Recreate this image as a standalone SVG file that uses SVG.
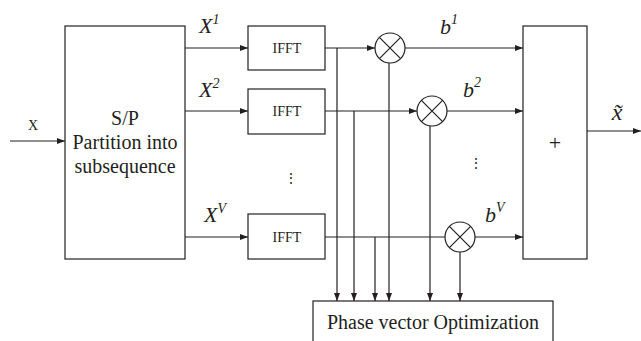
<svg xmlns="http://www.w3.org/2000/svg" width="641" height="341" viewBox="0 0 641 341">
<defs>
<marker id="ah" markerWidth="8" markerHeight="6" refX="8" refY="3" orient="auto" markerUnits="userSpaceOnUse">
<path d="M0,0 L8,3 L0,6 Z" fill="#231f20"/>
</marker>
<style>
.box{fill:#fff;stroke:#231f20;stroke-width:1.2}
.ln{fill:none;stroke:#231f20;stroke-width:1.2}
.ar{fill:none;stroke:#231f20;stroke-width:1.2;marker-end:url(#ah)}
.t{font-family:"Liberation Serif","Times New Roman",serif;fill:#231f20}
.it{font-family:"Liberation Serif","Times New Roman",serif;font-style:italic;fill:#231f20}
</style>
</defs>
<rect width="641" height="341" fill="#fff"/>
<g id="connectors">
<line class="ar" x1="10" y1="141" x2="65" y2="141"/>
<line class="ar" x1="185" y1="48" x2="248" y2="48"/>
<line class="ar" x1="185" y1="111" x2="248" y2="111"/>
<line class="ar" x1="185" y1="237" x2="248" y2="237"/>
<line class="ar" x1="325" y1="48" x2="375" y2="48"/>
<line class="ar" x1="325" y1="111" x2="417" y2="111"/>
<line class="ln" x1="325" y1="237" x2="445" y2="237"/>
<line class="ar" x1="337" y1="48" x2="337" y2="301"/>
<line class="ar" x1="354" y1="111" x2="354" y2="301"/>
<line class="ar" x1="375" y1="237" x2="375" y2="301"/>
<line class="ar" x1="389" y1="63" x2="389" y2="301"/>
<line class="ar" x1="430" y1="126" x2="430" y2="301"/>
<line class="ar" x1="460" y1="252" x2="460" y2="301"/>
<line class="ar" x1="405" y1="48" x2="523" y2="48"/>
<line class="ar" x1="447" y1="111" x2="523" y2="111"/>
<line class="ar" x1="475" y1="237" x2="523" y2="237"/>
<line class="ar" x1="587" y1="131" x2="641" y2="131"/>
</g>
<g id="sp">
<rect class="box" x="65" y="26" width="120" height="233"/>
<text class="t" x="125" y="125" font-size="20" text-anchor="middle">S/P</text>
<text class="t" x="125" y="149" font-size="20" text-anchor="middle">Partition into</text>
<text class="t" x="125" y="173" font-size="20" text-anchor="middle">subsequence</text>
</g>
<text class="t" x="33" y="130" font-size="14" text-anchor="middle">X</text>
<g id="ifft1">
<rect class="box" x="248" y="26" width="77" height="44"/>
<text class="t" x="287" y="53" font-size="14" text-anchor="middle">IFFT</text>
</g>
<g id="ifft2">
<rect class="box" x="248" y="89" width="77" height="45"/>
<text class="t" x="287" y="116" font-size="14" text-anchor="middle">IFFT</text>
</g>
<g id="ifft3">
<rect class="box" x="248" y="214" width="77" height="45"/>
<text class="t" x="287" y="242" font-size="14" text-anchor="middle">IFFT</text>
</g>
<text class="it" x="199" y="33" font-size="22">X<tspan font-size="14" dy="-9">1</tspan></text>
<text class="it" x="199" y="97" font-size="22">X<tspan font-size="14" dy="-9">2</tspan></text>
<text class="it" x="204" y="222" font-size="22">X<tspan font-size="14" dy="-9">V</tspan></text>
<text class="t" x="291" y="183" font-size="14" text-anchor="middle">⋮</text>
<g id="mul1">
<circle class="box" cx="390" cy="48" r="15"/>
<path class="ln" d="M379.4,37.4 L400.6,58.6 M400.6,37.4 L379.4,58.6"/>
</g>
<g id="mul2">
<circle class="box" cx="432" cy="111" r="15"/>
<path class="ln" d="M421.4,100.4 L442.6,121.6 M442.6,100.4 L421.4,121.6"/>
</g>
<g id="mul3">
<circle class="box" cx="460" cy="237" r="15"/>
<path class="ln" d="M449.4,226.4 L470.6,247.6 M470.6,226.4 L449.4,247.6"/>
</g>
<text class="it" x="440" y="34" font-size="22">b<tspan font-size="14" dy="-10">1</tspan></text>
<text class="it" x="463" y="97" font-size="22">b<tspan font-size="14" dy="-10">2</tspan></text>
<text class="it" x="485" y="222" font-size="22">b<tspan font-size="14" dy="-10">V</tspan></text>
<text class="t" x="476" y="168" font-size="14" text-anchor="middle">⋮</text>
<g id="sum">
<rect class="box" x="523" y="26" width="64" height="233"/>
<text class="t" x="555" y="150" font-size="22" text-anchor="middle">+</text>
</g>
<text class="it" x="617" y="120" font-size="24" text-anchor="middle">x̃</text>
<g id="phase">
<rect class="box" x="313" y="301" width="240" height="50"/>
<text class="t" x="433" y="329" font-size="20" text-anchor="middle">Phase vector Optimization</text>
</g>
</svg>
